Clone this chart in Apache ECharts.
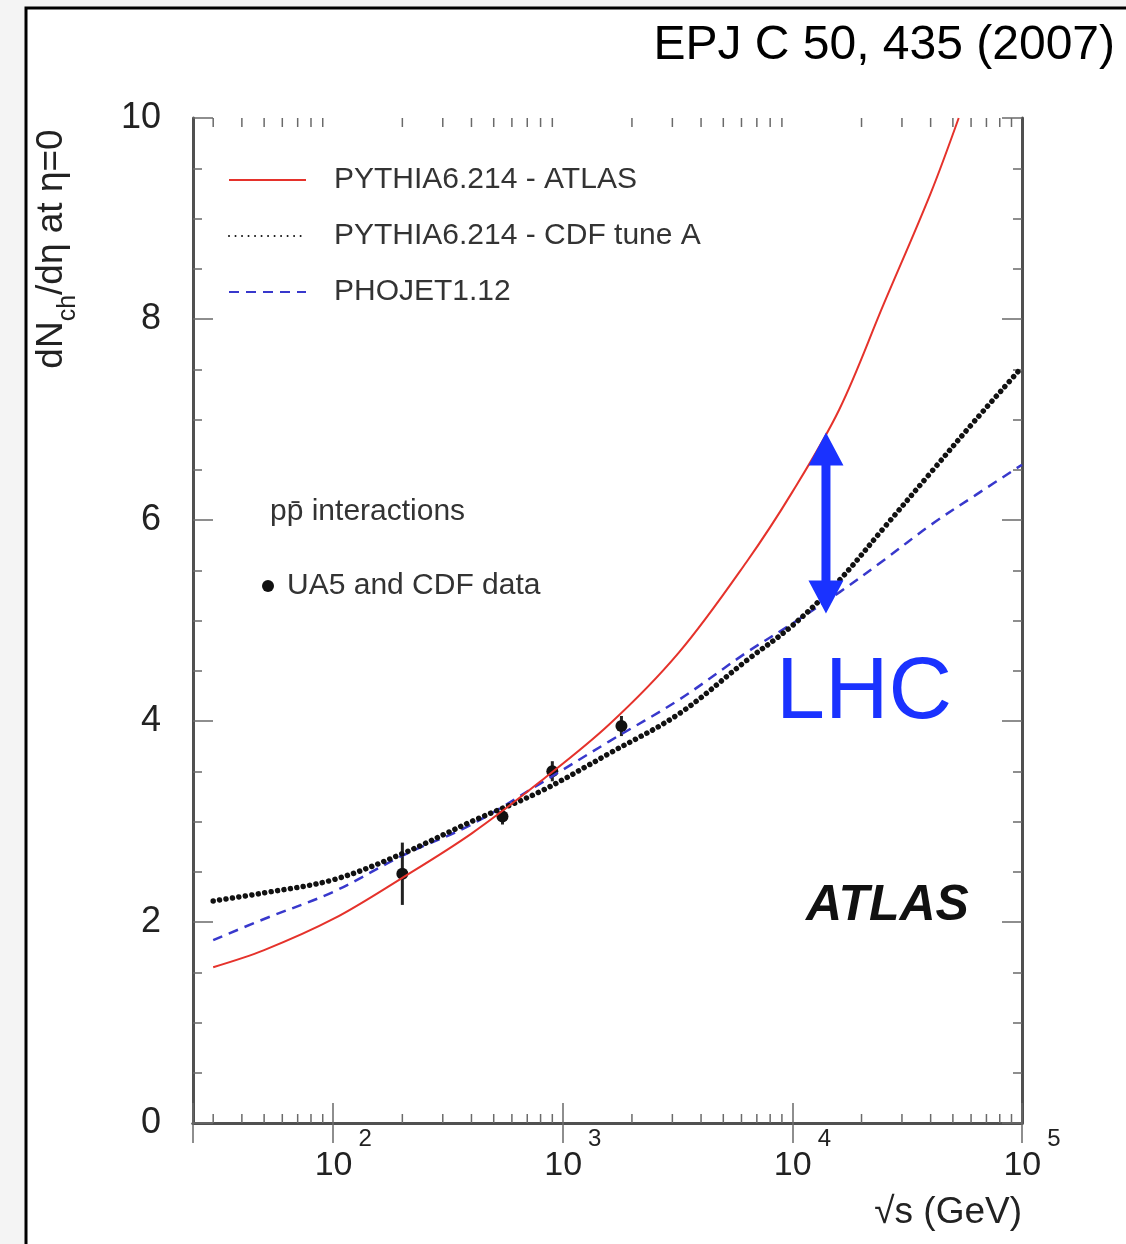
<!DOCTYPE html>
<html>
<head>
<meta charset="utf-8">
<script src="https://cdn.jsdelivr.net/npm/echarts@6/dist/echarts.min.js"></script>
<style>
  html, body { margin: 0; padding: 0; background: #f4f4f4; }
  #main { width: 1126px; height: 1244px; }
</style>
</head>
<body>
<div id="main"></div>
<script>
// ---- data ----
const xEnergy   = [30, 50, 100, 200, 400, 800, 1600, 3200, 6300, 10000, 16000, 25000, 40000, 63000, 100000];
const xAtlas    = [30, 50, 100, 200, 400, 800, 1600, 3200, 6300, 10000, 16000, 25000, 40000, 53000];
const pythiaAtlas = [1.55, 1.72, 2.03, 2.44, 2.88, 3.40, 3.97, 4.68, 5.58, 6.28, 7.10, 8.15, 9.25, 10.0];
const pythiaCdfA  = [2.21, 2.29, 2.42, 2.68, 3.00, 3.30, 3.68, 4.07, 4.60, 4.95, 5.40, 5.92, 6.47, 7.00, 7.52];
const phojet      = [1.82, 2.03, 2.30, 2.66, 2.97, 3.38, 3.80, 4.21, 4.68, 4.97, 5.28, 5.60, 5.95, 6.25, 6.55];

const dataEnergy = [200, 546, 900, 1800];
const dataValue  = [2.48, 3.05, 3.50, 3.95];
const dataError  = [0.31, 0.08, 0.10, 0.10];

const arrowEnergy = [14000];
const arrowLow    = [5.07];
const arrowHigh   = [6.87];

const yTicks = [0, 2, 4, 6, 8, 10];
const xMinorTicks = [30, 40, 50, 60, 70, 80, 90,
  200, 300, 400, 500, 600, 700, 800, 900,
  2000, 3000, 4000, 5000, 6000, 7000, 8000, 9000,
  20000, 30000, 40000, 50000, 60000, 70000, 80000, 90000];

const seriesNames = ['PYTHIA6.214 - ATLAS', 'PYTHIA6.214 - CDF tune A', 'PHOJET1.12'];
const dataName = 'UA5 and CDF data';

// ---- chart ----
const FONT = '"Liberation Sans", Arial, Helvetica, sans-serif';
const AXIS = '#505050';
const TICK = '#6a6a6a';
const chart = echarts.init(document.getElementById('main'), null, { renderer: 'canvas' });

function zip(xs, ys) { return xs.map((x, i) => [x, ys[i]]); }

function expLabel(v) {
  const e = Math.log10(v);
  if (Math.abs(e - Math.round(e)) > 1e-6) return '';
  return '{b|10}{sup|' + Math.round(e) + '}';
}

const xCommon = {
  type: 'log', logBase: 10, min: 24.5, max: 100000,
  axisLine: { show: true, lineStyle: { color: AXIS, width: 3 } },
  axisTick: { show: true, inside: true, length: 20, lineStyle: { color: TICK, width: 1.5 } },
  splitLine: { show: false },
  minorTick: { show: false }
};
const yCommon = {
  type: 'value', min: yTicks[0], max: yTicks[yTicks.length - 1], interval: 2,
  axisLine: { show: true, lineStyle: { color: AXIS, width: 3 } },
  axisTick: { show: true, inside: true, length: 20, lineStyle: { color: TICK, width: 1.5 } },
  minorTick: { show: true, splitNumber: 4, length: 9, lineStyle: { color: TICK, width: 1.5 } },
  splitLine: { show: false }
};

const option = {
  animation: false,
  backgroundColor: 'transparent',
  textStyle: { fontFamily: FONT },
  grid: { left: 193, right: 104, top: 118, bottom: 121, show: true, backgroundColor: '#fff', borderWidth: 0 },
  xAxis: [
    Object.assign({}, xCommon, {
      position: 'bottom',
      axisLabel: {
        show: true, margin: 4, formatter: expLabel, color: '#222',
        rich: {
          b:   { fontSize: 34, fontFamily: FONT, color: '#222', lineHeight: 56, verticalAlign: 'bottom', padding: [0, 0, 0, 20] },
          sup: { fontSize: 24, fontFamily: FONT, color: '#222', lineHeight: 56, verticalAlign: 'top', padding: [0, 0, 0, 6] }
        }
      }
    }),
    Object.assign({}, xCommon, { position: 'top', axisLabel: { show: false } })
  ],
  yAxis: [
    Object.assign({}, yCommon, {
      position: 'left',
      axisLabel: { show: true, fontSize: 36, margin: 32, color: '#222', fontFamily: FONT }
    }),
    Object.assign({}, yCommon, { position: 'right', axisLabel: { show: false } })
  ],
  legend: [
    {
      data: seriesNames,
      orient: 'vertical', left: 228, top: 165, padding: 0,
      itemWidth: 77, itemHeight: 14, itemGap: 26,
      selectedMode: false,
      itemStyle: { opacity: 0, borderWidth: 0 },
      textStyle: { fontSize: 30, color: '#333', fontFamily: FONT, padding: [0, 0, 0, 23] }
    },
    {
      data: [dataName],
      orient: 'vertical', left: 262, top: 571, padding: 0,
      itemWidth: 12, itemHeight: 12, icon: 'circle',
      selectedMode: false,
      textStyle: { fontSize: 30, color: '#333', fontFamily: FONT, padding: [0, 0, 0, 8] }
    }
  ],
  series: [
    {
      type: 'custom', name: 'xminor', silent: true, xAxisIndex: 0, yAxisIndex: 0,
      data: xMinorTicks.map(v => [v, yTicks[0]]),
      encode: { x: 0, y: 1 },
      renderItem: function (params, api) {
        const v = api.value(0);
        const b = api.coord([v, yTicks[0]]);
        const t = api.coord([v, yTicks[yTicks.length - 1]]);
        const st = { stroke: TICK, lineWidth: 1.5 };
        return { type: 'group', children: [
          { type: 'line', shape: { x1: b[0], y1: b[1], x2: b[0], y2: b[1] - 9 }, style: st },
          { type: 'line', shape: { x1: t[0], y1: t[1], x2: t[0], y2: t[1] + 9 }, style: st }
        ]};
      },
      z: 1
    },
    {
      type: 'custom', name: 'errors', silent: true,
      data: dataEnergy.map((x, i) => [x, dataValue[i] - dataError[i], dataValue[i] + dataError[i]]),
      encode: { x: 0, y: [1, 2] },
      renderItem: function (params, api) {
        const p1 = api.coord([api.value(0), api.value(1)]);
        const p2 = api.coord([api.value(0), api.value(2)]);
        return { type: 'line', shape: { x1: p1[0], y1: p1[1], x2: p2[0], y2: p2[1] },
                 style: { stroke: '#222', lineWidth: 3 } };
      },
      z: 2
    },
    {
      type: 'scatter', name: dataName, data: zip(dataEnergy, dataValue),
      symbol: 'circle', symbolSize: 12, itemStyle: { color: '#111', opacity: 1 }, z: 2
    },
    {
      type: 'line', name: seriesNames[2], data: zip(xEnergy, phojet),
      symbol: 'none', smooth: 0.35, clip: true,
      itemStyle: { color: '#3838cc' },
      lineStyle: { color: '#3838cc', width: 2.5, type: [10, 7] }, z: 3
    },
    {
      type: 'line', name: seriesNames[1], data: zip(xEnergy, pythiaCdfA),
      symbol: 'none', smooth: 0.35, clip: true,
      itemStyle: { color: '#111' },
      lineStyle: { color: '#111', width: 5.5, type: [0.01, 6.5], cap: 'round' }, z: 4
    },
    {
      type: 'line', name: seriesNames[0], data: zip(xAtlas, pythiaAtlas),
      symbol: 'none', smooth: 0.35, clip: true,
      itemStyle: { color: '#e5322b' },
      lineStyle: { color: '#e5322b', width: 2 }, z: 5
    },
    {
      type: 'custom', name: 'arrow', silent: true,
      data: arrowEnergy.map((x, i) => [x, arrowLow[i], arrowHigh[i]]),
      encode: { x: 0, y: [1, 2] },
      renderItem: function (params, api) {
        const b = api.coord([api.value(0), api.value(1)]);
        const t = api.coord([api.value(0), api.value(2)]);
        const cx = b[0], ty = t[1], by = b[1];
        const hl = 33, hw = 17.5, sw = 4.5;
        return { type: 'polygon', shape: { points: [
          [cx, ty], [cx + hw, ty + hl], [cx + sw, ty + hl], [cx + sw, by - hl], [cx + hw, by - hl],
          [cx, by], [cx - hw, by - hl], [cx - sw, by - hl], [cx - sw, ty + hl], [cx - hw, ty + hl]
        ] }, style: { fill: '#1a32ff' } };
      },
      z: 10
    }
  ],
  graphic: [
    { type: 'rect', shape: { x: 26, y: 8, width: 1200, height: 1300 },
      style: { fill: '#fff', stroke: '#000', lineWidth: 3 }, z: -10, silent: true },
    { type: 'text', x: 1115, y: 46, z: 5,
      style: { text: 'EPJ C 50, 435 (2007)', font: '48px ' + FONT, fill: '#000', textAlign: 'right', textVerticalAlign: 'middle' } },
    { type: 'text', x: 57, y: 249, rotation: Math.PI / 2, z: 5,
      style: {
        text: '{a|dN}{s|ch}{a|/dη at η=0}', textAlign: 'center', textVerticalAlign: 'middle',
        rich: {
          a: { fontSize: 37, fontFamily: FONT, fill: '#222', lineHeight: 48, verticalAlign: 'top' },
          s: { fontSize: 25, fontFamily: FONT, fill: '#222', lineHeight: 48, verticalAlign: 'bottom' }
        }
      } },
    { type: 'text', x: 1022, y: 1213, z: 5,
      style: { text: '√s (GeV)', font: '37px ' + FONT, fill: '#222', textAlign: 'right', textVerticalAlign: 'middle' } },
    { type: 'text', x: 270, y: 512, z: 5,
      style: { text: 'pp\u0304 interactions', font: '30px ' + FONT, fill: '#333', textAlign: 'left', textVerticalAlign: 'middle' } },
    { type: 'text', x: 776, y: 694, z: 5,
      style: { text: 'LHC', font: '88px ' + FONT, fill: '#1a32ff', textAlign: 'left', textVerticalAlign: 'middle' } },
    { type: 'text', x: 806, y: 906, z: 5,
      style: { text: 'ATLAS', font: 'italic bold 50px ' + FONT, fill: '#111', textAlign: 'left', textVerticalAlign: 'middle' } }
  ]
};
chart.setOption(option);
</script>
</body>
</html>
